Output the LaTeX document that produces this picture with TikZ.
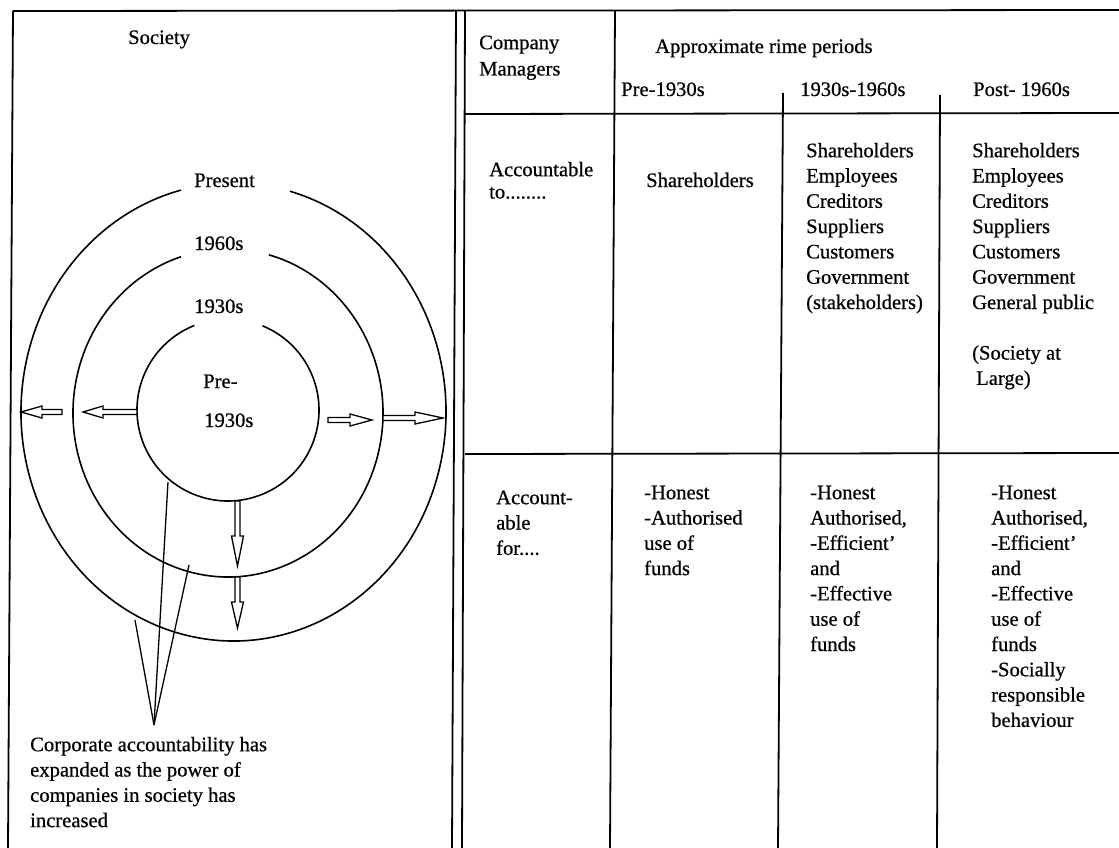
\documentclass[tikz,border=0pt]{standalone}
\usepackage{fontspec}
\setmainfont{Liberation Serif}[FakeBold=0.6]
\usetikzlibrary{calc}

% open block arrow: tail point, length, direction (deg), head length
\newcommand\hollowarrow[4]{%
  \begin{scope}[shift={#1}, rotate=#3]
    \draw[arrowline] (0,-2.5) -- (#2-#4,-2.5) -- (#2-#4,-6) -- (#2,0)
      -- (#2-#4,6) -- (#2-#4,2.5) -- (0,2.5) -- cycle;
  \end{scope}}
\newcommand\firstline{\rule{0pt}{16pt}}

\begin{document}
\begin{tikzpicture}[x=1pt, y=-1pt,
  rule/.style={line width=1.8pt, black},
  ring/.style={line width=1.6pt, black},
  arrowline/.style={line width=1.3pt, black, fill=white, line join=miter},
  callout/.style={line width=1.3pt, black},
  txt/.style={inner sep=0pt, anchor=base west, font=\fontsize{20.6}{25.3}\selectfont},
  list/.style={inner sep=0pt, anchor=north west, align=left, font=\fontsize{20.6}{25.3}\selectfont}]

\useasboundingbox[fill=white] (0,0) rectangle (1119,848);

% ---------- frame and table rules ----------
\draw[rule] (13,11) -- (1119,10);
\draw[rule] (13,11) -- (8,848);
\draw[rule] (456,11) -- (452,848);
\draw[rule] (465,11) -- (462,848);
\draw[rule] (615,11) -- (610,848);
\draw[rule] (783,93) -- (778,848);
\draw[rule] (940,95) -- (937,848);
\draw[rule] (465,114) -- (1119,113);
\draw[rule] (465,454) -- (1119,453);

% ---------- concentric rings, open at the top ----------
\draw[ring] (228,410) ++(-67.7:91) arc[start angle=-67.7, end angle=248.3, radius=91];
\draw[ring] ($(228,413)+({155*cos(-74.7)},{164*sin(-74.7)})$)
  arc[start angle=-74.7, end angle=252.4, x radius=155, y radius=164];
\draw[ring] ($(233.5,412)+({212.5*cos(-74.6)},{229*sin(-74.6)})$)
  arc[start angle=-74.6, end angle=255.7, x radius=212.5, y radius=229];

\node[txt] (present) at (194,187) {Present};
\node[txt] (y1960) at (194,250) {1960s};
\node[txt] (y1930) at (194,313) {1930s};
\node[txt] (pre1) at (203,388) {Pre-};
\node[txt] (pre2) at (204,427) {1930s};

% ---------- outward arrows ----------
\hollowarrow{(137,412)}{54}{180}{20}
\hollowarrow{(62,412)}{41}{180}{21}
\hollowarrow{(328,420)}{44}{0}{22}
\hollowarrow{(383,418)}{60}{0}{28}
\hollowarrow{(237.5,501)}{65}{-90}{30}
\hollowarrow{(237.5,577)}{51}{-90}{26}

% ---------- callout ----------
\coordinate (focus) at (154,725);
\coordinate (onInner) at (168,482);
\coordinate (inBand) at (189,565);
\coordinate (onOuter) at (135,620);
\draw[callout] (onInner) -- (focus);
\draw[callout] (inBand) -- (focus);
\draw[callout] (onOuter) -- (focus);

\node[list] (corp) at (30,735) {\firstline Corporate accountability has\\expanded as the power of\\companies in society has\\increased};

\node[txt] (society) at (128,44) {Society};

% ---------- table header ----------
\node[list] (managers) at (479,33) {\firstline Company\\[1pt]Managers};
\node[txt] (periods) at (655,53) {Approximate rime periods};
\node[txt] (hpre) at (621,96) {Pre-1930s};
\node[txt] (hmid) at (800,96) {1930s-1960s};
\node[txt] (hpost) at (973,96) {Post- 1960s};

% ---------- accountable to ----------
\node[list] (accto) at (489,160) {\firstline Accountable\\[-3pt]to........};
\node[txt] (topre) at (646,187) {Shareholders};
\node[list] (tomid) at (806,141) {\firstline Shareholders\\Employees\\Creditors\\Suppliers\\Customers\\Government\\(stakeholders)};
\node[list] (topost) at (972,141) {\firstline Shareholders\\Employees\\Creditors\\Suppliers\\Customers\\Government\\General public\\[25.3pt](Society at\\\hspace*{4pt}Large)};

% ---------- accountable for ----------
\node[list] (accfor) at (496,488) {\firstline Account-\\able\\for....};
\node[list] (forpre) at (644,483) {\firstline -Honest\\-Authorised\\use of\\funds};
\node[list] (formid) at (810,483) {\firstline -Honest\\Authorised,\\-Efficient’\\and\\-Effective\\use of\\funds};
\node[list] (forpost) at (991,483) {\firstline -Honest\\Authorised,\\-Efficient’\\and\\-Effective\\use of\\funds\\-Socially\\responsible\\behaviour};

\end{tikzpicture}
\end{document}
